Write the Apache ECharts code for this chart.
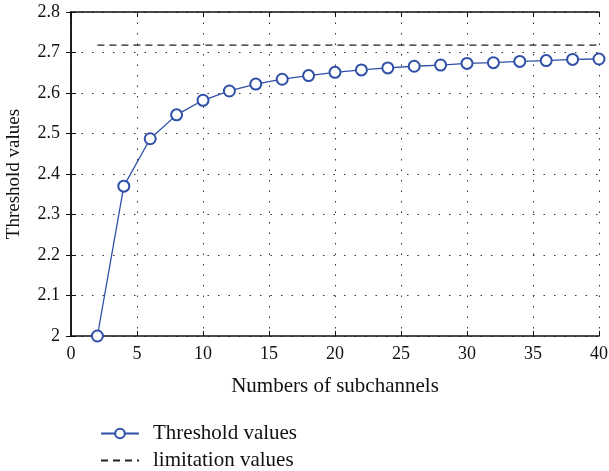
<!DOCTYPE html>
<html><head><meta charset="utf-8">
<script src="https://cdn.jsdelivr.net/npm/echarts@6/dist/echarts.min.js"></script>
<style>html,body{margin:0;padding:0;background:#fff}#c{width:609px;height:471px}</style>
</head><body><div id="c"></div>
<script>
var subchannels = [2,4,6,8,10,12,14,16,18,20,22,24,26,28,30,32,34,36,38,40];
var thresholdValues = [2.0,2.370,2.487,2.546,2.582,2.605,2.622,2.634,2.643,2.651,2.657,2.662,2.666,2.669,2.673,2.675,2.678,2.680,2.683,2.684];
var limitationX = [2,40];
var limitationValue = 2.718;

var font = '"Liberation Serif", "DejaVu Serif", serif';
var chart = echarts.init(document.getElementById('c'));
var grid = {type:[1.5,9], color:'#333', width:1};
var legendText = {fontFamily:font,fontSize:21,color:'#111',padding:[0,0,0,9]};
chart.setOption({
  animation:false,
  textStyle:{fontFamily:font},
  grid:{left:71,right:10,top:12,bottom:135,containLabel:false,outerBoundsMode:'none'},
  legend:[
    {left:95,top:418,itemWidth:38,itemHeight:12,textStyle:legendText,
     data:['Threshold values']},
    {left:95,top:445,itemWidth:38,itemHeight:12,textStyle:legendText,
     data:[{name:'limitation values',itemStyle:{color:'rgba(0,0,0,0)',borderColor:'rgba(0,0,0,0)',opacity:0}}]}
  ],
  xAxis:[{type:'value',min:0,max:40,interval:5,position:'bottom',
    name:'Numbers of subchannels',nameLocation:'middle',nameGap:40,
    nameTextStyle:{fontFamily:font,fontSize:21,color:'#111'},
    axisLine:{lineStyle:{color:'#111',width:1.5}},
    axisTick:{inside:true,length:5,lineStyle:{color:'#111'}},
    axisLabel:{fontFamily:font,fontSize:18,color:'#111',margin:9},
    splitLine:{show:true,lineStyle:grid}},
   {type:'value',min:0,max:40,interval:5,position:'top',
    axisLine:{show:true,lineStyle:{color:'#111',width:1.5}},
    axisTick:{inside:true,length:5,lineStyle:{color:'#111'}},
    axisLabel:{show:false},splitLine:{show:false}}],
  yAxis:[{type:'value',min:2,max:2.8,interval:0.1,
    name:'Threshold values',nameLocation:'middle',nameGap:47,
    nameTextStyle:{fontFamily:font,fontSize:19,color:'#111'},
    axisLine:{show:true,lineStyle:{color:'#111',width:1.5}},
    axisTick:{show:true,inside:true,length:5,lineStyle:{color:'#111'}},
    axisLabel:{fontFamily:font,fontSize:18,color:'#111',margin:11,
      formatter:function(v){return (Math.round(v*10)/10).toString();}},
    splitLine:{show:true,lineStyle:grid}},
   {type:'value',min:2,max:2.8,interval:0.1,position:'right',
    axisLine:{show:true,lineStyle:{color:'#111',width:1.5}},
    axisTick:{show:true,inside:true,length:5,lineStyle:{color:'#111'}},
    axisLabel:{show:false},splitLine:{show:false}}],
  series:[
    {name:'Threshold values',type:'line',
     data:subchannels.map(function(x,i){return [x,thresholdValues[i]];}),
     symbol:'emptyCircle',symbolSize:11,showSymbol:true,
     itemStyle:{color:'#2f4fa8',borderColor:'#2f4fa8',borderWidth:1.4},
     lineStyle:{color:'#2f4fa8',width:1.3}},
    {name:'limitation values',type:'line',
     data:limitationX.map(function(x){return [x,limitationValue];}),
     symbol:'none',itemStyle:{color:'#222'},
     lineStyle:{color:'#222',width:1.3,type:[7,5]}}
  ]
});
</script></body></html>
